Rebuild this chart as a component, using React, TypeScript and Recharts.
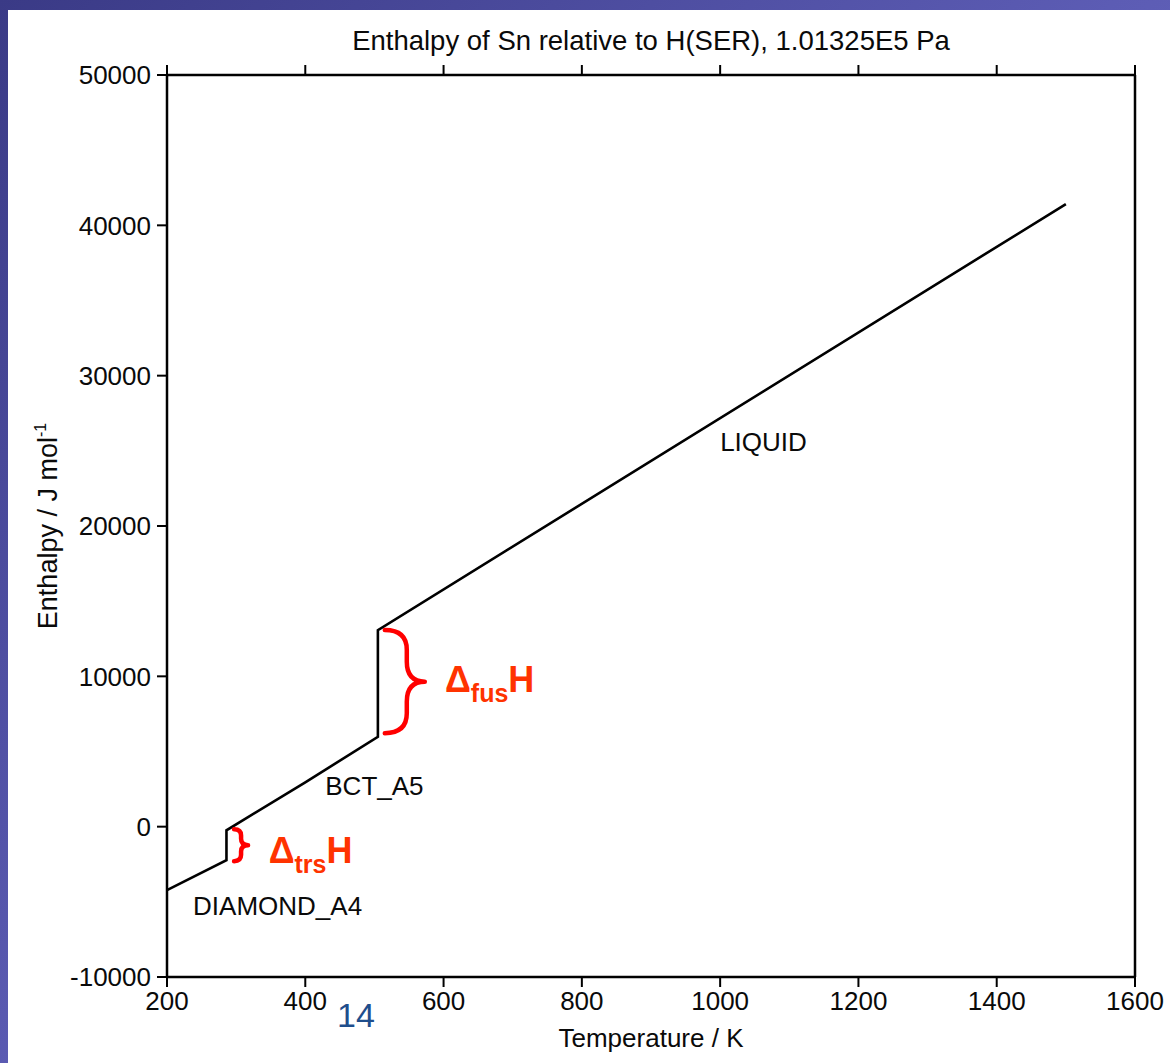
import React from 'react';
import { LineChart, Line, XAxis, YAxis, ReferenceLine, ReferenceDot } from 'recharts';

// Temperature (K) and enthalpy (J/mol)
const temperatures = [200, 286, 286, 400, 505, 505, 1500];
const enthalpies = [-4225, -2230, -240, 2950, 5975, 13074, 41417];

const xTicks = [200, 400, 600, 800, 1000, 1200, 1400, 1600];
const yTicks = [-10000, 0, 10000, 20000, 30000, 40000, 50000];

// phase labels
const phaseNames = ['LIQUID', 'BCT_A5', 'DIAMOND_A4'];
const phaseT = [1000, 500, 360];
const phaseH = [25000, 2100, -5900];

// transition annotations
const braceNames = ['fus', 'trs'];
const braceT = [515, 297];
const braceTop = [13074, -166];
const braceBottom = [6221, -2295];
const braceLabelT = [602, 347];
const braceLabelH = [8950, -2430];

const data = temperatures.map((t, i) => ({ T: t, H: enthalpies[i] }));

const FONT = '"Liberation Sans", Arial, Helvetica, sans-serif';
const TEXT = '#0a0a0a';

const braceSizes: Record<string, { w: number; bow: number }> = {
  fus: { w: 40, bow: 22 },
  trs: { w: 14, bow: 7 },
};

const makeBrace = (w: number, bow: number) => (props: any) => {
  const { x1, y1, y2 } = props;
  const x0 = x1;
  const yT = Math.min(y1, y2);
  const yB = Math.max(y1, y2);
  const ym = (yT + yB) / 2;
  const xm = x0 + bow;
  const r = Math.min(bow * 0.9, (yB - yT) / 4);
  const d = `M${x0},${yT} Q${xm},${yT} ${xm},${yT + r} L${xm},${ym - r} Q${xm},${ym} ${x0 + w},${ym} Q${xm},${ym} ${xm},${ym + r} L${xm},${yB - r} Q${xm},${yB} ${x0},${yB}`;
  return <path d={d} fill="none" stroke="#ff0000" strokeWidth={4.5} strokeLinecap="round" strokeLinejoin="round" />;
};

const phaseLabel = (text: string) => (p: any) => (
  <text x={p.cx} y={p.cy} textAnchor={text === 'LIQUID' ? 'start' : 'middle'} fontFamily={FONT} fontSize={26} fill={TEXT}>
    {text}
  </text>
);

const deltaLabel = (sub: string) => (p: any) => (
  <text x={p.cx} y={p.cy} fontFamily={FONT} fontWeight="bold" fontSize={36} fill="#ff3300">
    Δ
    <tspan fontSize={25} dy={10}>{sub}</tspan>
    <tspan fontSize={36} dy={-10}>H</tspan>
  </text>
);

const axisLine = { stroke: '#000', strokeWidth: 2.5 };
const tickLine = { stroke: '#000', strokeWidth: 2 };
const tickStyle = { fill: TEXT, fontSize: 26, fontFamily: FONT };

export default function App() {
  return (
    <div
      style={{
        position: 'fixed',
        left: 0,
        top: 0,
        width: 1170,
        height: 1063,
        background: 'linear-gradient(135deg, #3a3a86 0%, #5c5cb4 50%, #7a7ad2 100%)',
        overflow: 'hidden',
      }}
    >
      <div style={{ position: 'absolute', left: 8, top: 10, right: 0, bottom: 0, background: '#fff' }} />
      <div style={{ position: 'absolute', left: 0, top: 0 }}>
        <LineChart width={1170} height={1063} data={data} margin={{ top: 0, right: 0, bottom: 0, left: 0 }}>
          <XAxis
            xAxisId="b"
            dataKey="T"
            type="number"
            domain={[200, 1600]}
            ticks={xTicks}
            interval={0}
            orientation="bottom"
            height={86}
            tickSize={10}
            tickMargin={5}
            axisLine={axisLine}
            tickLine={tickLine}
            tick={tickStyle}
          />
          <XAxis
            xAxisId="t"
            dataKey="T"
            type="number"
            domain={[200, 1600]}
            ticks={xTicks}
            interval={0}
            orientation="top"
            height={75}
            tickSize={10}
            axisLine={axisLine}
            tickLine={tickLine}
            tickFormatter={() => ''}
          />
          <YAxis
            yAxisId="l"
            type="number"
            domain={[-10000, 50000]}
            ticks={yTicks}
            interval={0}
            orientation="left"
            width={167}
            tickSize={10}
            tickMargin={6}
            axisLine={axisLine}
            tickLine={tickLine}
            tick={tickStyle}
          />
          <YAxis
            yAxisId="r"
            type="number"
            domain={[-10000, 50000]}
            ticks={yTicks}
            interval={0}
            orientation="right"
            width={35}
            tickSize={9}
            axisLine={axisLine}
            tickLine={tickLine}
            tickFormatter={() => ''}
          />
          <Line
            xAxisId="b"
            yAxisId="l"
            dataKey="H"
            type="linear"
            dot={false}
            stroke="#000"
            strokeWidth={2.6}
            isAnimationActive={false}
          />
          {braceNames.map((n, i) => (
            <ReferenceLine
              key={'b' + n}
              xAxisId="b"
              yAxisId="l"
              segment={[
                { x: braceT[i], y: braceTop[i] },
                { x: braceT[i], y: braceBottom[i] },
              ]}
              shape={makeBrace(braceSizes[n].w, braceSizes[n].bow)}
            />
          ))}
          {braceNames.map((n, i) => (
            <ReferenceDot
              key={'d' + n}
              xAxisId="b"
              yAxisId="l"
              x={braceLabelT[i]}
              y={braceLabelH[i]}
              r={0}
              shape={deltaLabel(n)}
            />
          ))}
          {phaseNames.map((n, i) => (
            <ReferenceDot
              key={n}
              xAxisId="b"
              yAxisId="l"
              x={phaseT[i]}
              y={phaseH[i]}
              r={0}
              shape={phaseLabel(n)}
            />
          ))}
        </LineChart>
      </div>
      <svg width={1170} height={1063} style={{ position: 'absolute', left: 0, top: 0, pointerEvents: 'none' }}>
        <text x={651} y={50} textAnchor="middle" fontFamily={FONT} fontSize={27.5} fill={TEXT}>
          Enthalpy of Sn relative to H(SER), 1.01325E5 Pa
        </text>
        <text x={651} y={1047} textAnchor="middle" fontFamily={FONT} fontSize={26} fill={TEXT}>
          Temperature / K
        </text>
        <text
          x={0}
          y={0}
          transform="translate(57,526) rotate(-90)"
          textAnchor="middle"
          fontFamily={FONT}
          fontSize={27}
          fill={TEXT}
        >
          Enthalpy / J mol
          <tspan fontSize={16} dy={-11}>-1</tspan>
        </text>
        <text x={356} y={1027} textAnchor="middle" fontFamily={FONT} fontSize={34} fill="#1f4e8c">
          14
        </text>
      </svg>
    </div>
  );
}
